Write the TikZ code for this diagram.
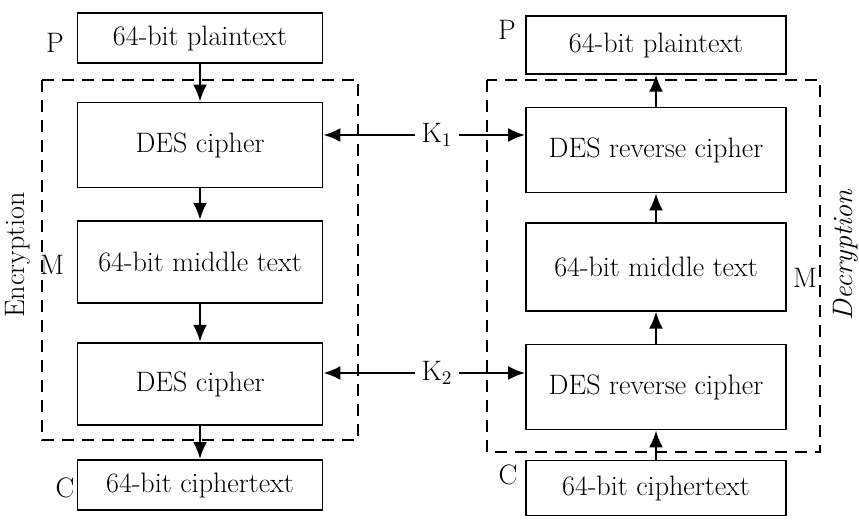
\documentclass[tikz,border=0pt]{standalone}
\usetikzlibrary{arrows.meta}
\begin{document}
\begin{tikzpicture}[x=0.02cm, y=-0.02cm,
  font=\fontsize{16}{19}\selectfont,
  blk/.style={draw, line width=1.1pt, minimum width=4.9cm, inner sep=0pt},
  flow/.style={line width=1.2pt, -{Latex[length=3.4mm, width=2.8mm]}},
  frame/.style={line width=1.2pt, dash pattern=on 2.4mm off 1.6mm}]

\useasboundingbox (0,0) rectangle (859,520);

% encryption side
\node[blk, minimum height=1.0cm] (lp) at (200,38) {64-bit plaintext};
\node[blk, minimum height=1.7cm] (le1) at (200,145) {DES cipher};
\node[blk, minimum height=1.65cm] (lm) at (200,262) {64-bit middle text};
\node[blk, minimum height=1.65cm] (le2) at (200,384) {DES cipher};
\node[blk, minimum height=1.0cm] (lc) at (200,485) {64-bit ciphertext};

\draw[frame] (42,80) rectangle (358,440);

\node (lpl) at (55,43) {P};
\node (lml) at (52,265) {M};
\node (lcl) at (65,488) {C};
\node[rotate=90] (enc) at (18,255) {Encryption};

% decryption side
\node[blk, minimum width=5.2cm, minimum height=1.15cm] (rp) at (656,45) {64-bit plaintext};
\node[blk, minimum width=5.2cm, minimum height=1.7cm] (rd1) at (656,150) {DES reverse cipher};
\node[blk, minimum width=5.2cm, minimum height=1.75cm] (rm) at (656,267) {64-bit middle text};
\node[blk, minimum width=5.2cm, minimum height=1.7cm] (rd2) at (656,387) {DES reverse cipher};
\node[blk, minimum width=5.2cm, minimum height=1.1cm] (rc) at (656,488) {64-bit ciphertext};

\draw[frame] (487,80) rectangle (820,452);

\node (rpl) at (507,30) {P};
\node (rml) at (805,278) {M};
\node (rcl) at (508,475) {C};
\node[rotate=90] (dec) at (846,255) {\itshape Decryption};

% keys
\node (k1) at (437,135) {K$_1$};
\node (k2) at (437,373) {K$_2$};

\draw[flow] (k1) -- (k1 -| le1.east);
\draw[flow] (k1) -- (k1 -| rd1.west);
\draw[flow] (k2) -- (k2 -| le2.east);
\draw[flow] (k2) -- (k2 -| rd2.west);

% data flow
\draw[flow] (lp) -- (le1);
\draw[flow] (le1) -- (lm);
\draw[flow] (lm) -- (le2);
\draw[flow] (le2) -- (lc);

\draw[flow] (rc) -- (rd2);
\draw[flow] (rd2) -- (rm);
\draw[flow] (rm) -- (rd1);
\draw[flow] (rd1) -- (rp);

\end{tikzpicture}
\end{document}
